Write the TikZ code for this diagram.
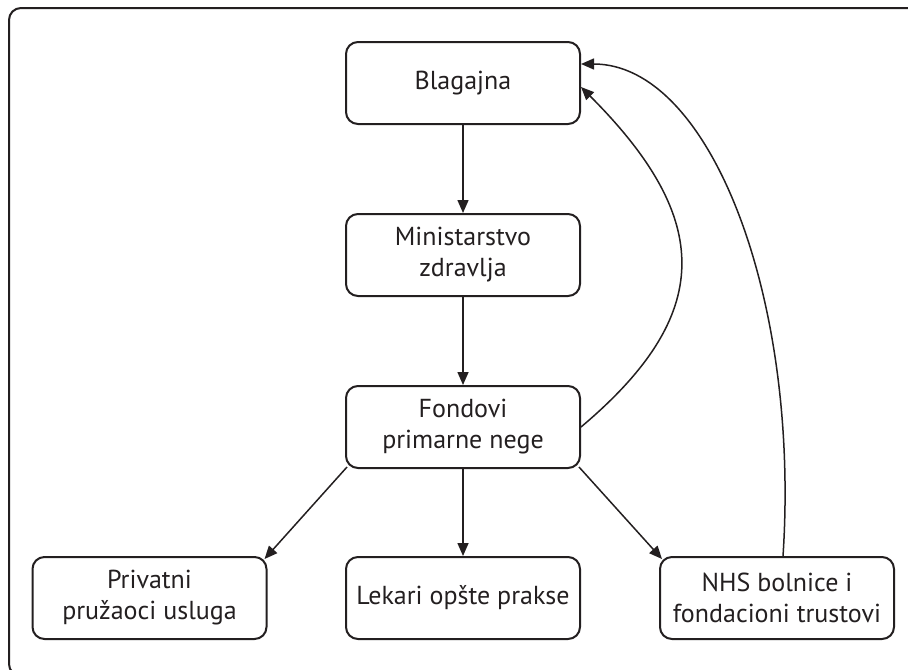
\documentclass[tikz,border=0pt]{standalone}
\usepackage{fontspec}
\setmainfont{PT Sans}
\usetikzlibrary{arrows.meta}
\definecolor{ink}{HTML}{231F20}
\begin{document}
\begin{tikzpicture}[x=0.5pt,y=-0.5pt,
  box/.style={draw=ink, line width=1pt, rounded corners=6pt, minimum width=117pt,
    minimum height=41pt, inner sep=0pt, align=center,
    font=\fontsize{13}{15.5}\selectfont, text=ink},
  conn/.style={draw=ink, line width=0.75pt, -{Triangle[length=6.5pt,width=5.5pt]}},
  frame/.style={draw=ink, line width=1pt, rounded corners=6pt}]
\useasboundingbox (0,0) rectangle (908,669);
\clip (0,0) rectangle (908,669);
\draw[frame] (940,8) -- (9,8) -- (9,676) -- (940,676);
\node[box] (bla) at (463,83)  {Blagajna};
\node[box] (min) at (463,255) {Ministarstvo\\zdravlja};
\node[box] (fon) at (463,427) {Fondovi\\primarne nege};
\node[box] (pri) at (149.5,598) {Privatni\\pružaoci usluga};
\node[box] (lek) at (463,598) {Lekari opšte prakse};
\node[box] (nhs) at (777,598) {NHS bolnice i\\fondacioni trustovi};
\draw[conn] (bla) -- (min);
\draw[conn] (min) -- (fon);
\draw[conn] (fon) -- (lek);
\draw[conn] ([shift={(2,-2)}]fon.south west) -- ([shift={(-3,3)}]pri.north east);
\draw[conn] ([shift={(-2,-2)}]fon.south east) -- ([shift={(3,3)}]nhs.north west);
\draw[conn] (fon.east) .. controls +(133,-112) and +(133,133) .. ([yshift=-2pt]bla.east);
\draw[conn] ([xshift=3pt]nhs.north) .. controls +(17,-258) and +(129,0) .. ([yshift=9.5pt]bla.east);
\end{tikzpicture}
\end{document}
